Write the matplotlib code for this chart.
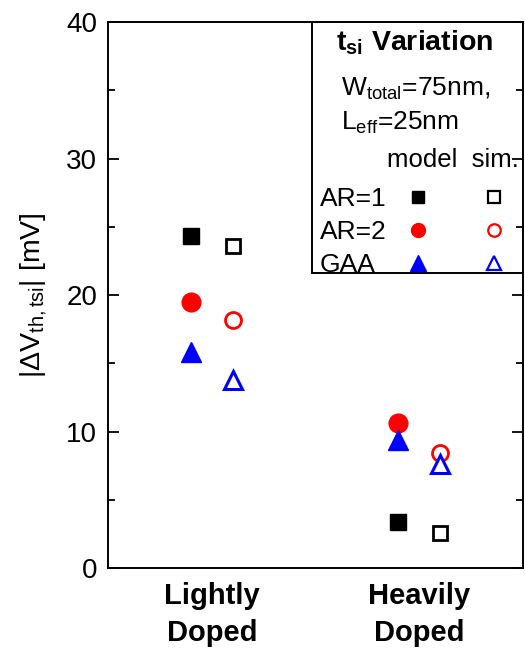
import numpy as np
import matplotlib.pyplot as plt
from matplotlib.lines import Line2D
from matplotlib.patches import Rectangle

plt.rcParams['font.family'] = ['Liberation Sans', 'DejaVu Sans']
plt.rcParams['mathtext.fontset'] = 'custom'
plt.rcParams['mathtext.rm'] = 'Liberation Sans'
plt.rcParams['mathtext.it'] = 'Liberation Sans:italic'
plt.rcParams['mathtext.bf'] = 'Liberation Sans:bold'

categories = ['Lightly\nDoped', 'Heavily\nDoped']
ar1_model = [24.3, 3.4]
ar1_sim = [23.6, 2.6]
ar2_model = [19.5, 10.6]
ar2_sim = [18.2, 8.4]
gaa_model = [15.8, 9.4]
gaa_sim = [13.8, 7.6]
series_names = ['AR=1', 'AR=2', 'GAA']

x = np.arange(1, len(categories) + 1)
off = 0.1

fig = plt.figure(figsize=(5.25, 6.5), dpi=100)
ax = fig.add_axes([0.206, 0.126, 0.79, 0.84])

ax.plot(x - off, ar1_model, 's', color='black', ms=11.5, ls='none')
ax.plot(x + off, ar1_sim, 's', mfc='white', mec='black', mew=2, ms=10.5, ls='none')
ax.plot(x - off, ar2_model, 'o', color='red', ms=13.5, ls='none')
ax.plot(x + off, ar2_sim, 'o', mfc='white', mec='red', mew=2, ms=11.5, ls='none')
ax.plot(x - off, gaa_model, '^', color='blue', ms=15, ls='none')
ax.plot(x + off, gaa_sim, '^', mfc='white', mec='blue', mew=2.2, ms=13, ls='none')

ax.set_xlim(0.5, 2.5)
ax.set_ylim(0, 40)
ax.set_xticks(x)
ax.set_xticklabels(categories, fontsize=21, fontweight='bold', linespacing=1.39)
ax.set_yticks([0, 10, 20, 30, 40])
ax.set_yticks([5, 15, 25, 35], minor=True)
ax.tick_params(axis='y', which='both', direction='in', left=True, right=True, labelsize=20, pad=8)
ax.tick_params(axis='y', which='major', length=8, width=1.3)
ax.tick_params(axis='y', which='minor', length=5, width=1.3)
ax.tick_params(axis='x', length=0, pad=10)
for s in ax.spines.values():
    s.set_linewidth(1.4)

ax.set_ylabel(r'|$\Delta$V$_{\mathrm{th,tsi}}$| [mV]', fontsize=20.5, labelpad=12)

# legend box
ax.add_patch(Rectangle((0.4916, 0.541), 0.5084, 0.459, transform=ax.transAxes,
                       fill=False, edgecolor='black', lw=1.4, zorder=3))
ax.text(0.74, 0.962, r'$\mathbf{t_{si}}$ Variation', transform=ax.transAxes,
        fontsize=20.5, fontweight='bold', ha='center', va='center')
ax.text(0.562, 0.878, r'W$_{\mathrm{total}}$=75nm,', transform=ax.transAxes,
        fontsize=19, ha='left', va='center')
ax.text(0.562, 0.815, r'L$_{\mathrm{eff}}$=25nm', transform=ax.transAxes,
        fontsize=19, ha='left', va='center')
ax.text(0.672, 0.748, 'model  sim.', transform=ax.transAxes,
        fontsize=18.5, ha='left', va='center')

blank = [Line2D([], [], ls='none') for _ in series_names]
model_h = [
    Line2D([], [], marker='s', color='black', ms=8, ls='none'),
    Line2D([], [], marker='o', color='red', ms=10, ls='none'),
    Line2D([], [], marker='^', color='blue', ms=11, ls='none'),
]
sim_h = [
    Line2D([], [], marker='s', mfc='white', mec='black', mew=1.6, ms=8, ls='none'),
    Line2D([], [], marker='o', mfc='white', mec='red', mew=1.6, ms=9, ls='none'),
    Line2D([], [], marker='^', mfc='white', mec='blue', mew=1.6, ms=10.5, ls='none'),
]
ax.legend(blank + model_h + sim_h, series_names + [''] * 6, ncol=3, frameon=False,
          loc='upper left', bbox_to_anchor=(0.371, 0.698), fontsize=19,
          handlelength=1.0, handletextpad=1.2, columnspacing=0.69,
          labelspacing=0.34, borderpad=0, borderaxespad=0)

fig.savefig('out.png', dpi=100)
